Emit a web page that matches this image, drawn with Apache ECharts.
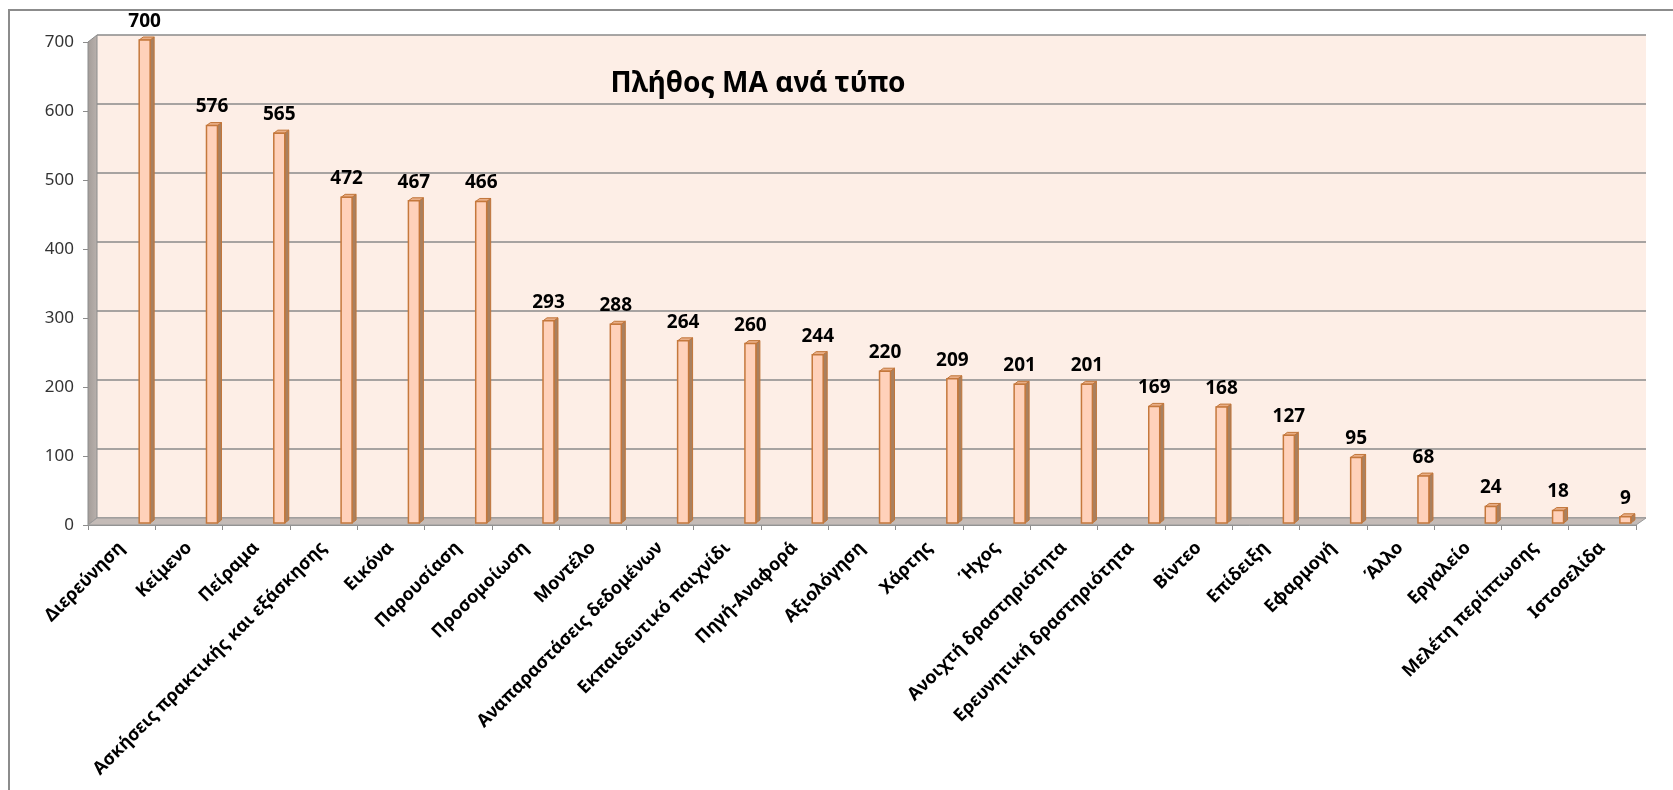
<!DOCTYPE html>
<html>
<head>
<meta charset="utf-8">
<title>Πλήθος ΜΑ ανά τύπο</title>
<script src="https://cdn.jsdelivr.net/npm/echarts@6/dist/echarts.min.js"></script>
<style>
  html, body { margin: 0; padding: 0; background: #fff; }
  #main { width: 1673px; height: 790px; }
</style>
</head>
<body>
<div id="main"></div>
<script>
// δεδομένα του γραφήματος
var categories = ['Διερεύνηση', 'Κείμενο', 'Πείραμα', 'Ασκήσεις πρακτικής και εξάσκησης', 'Εικόνα',
    'Παρουσίαση', 'Προσομοίωση', 'Μοντέλο', 'Αναπαραστάσεις δεδομένων', 'Εκπαιδευτικό παιχνίδι',
    'Πηγή-Αναφορά', 'Αξιολόγηση', 'Χάρτης', 'Ήχος', 'Ανοιχτή δραστηριότητα', 'Ερευνητική δραστηριότητα',
    'Βίντεο', 'Επίδειξη', 'Εφαρμογή', 'Άλλο', 'Εργαλείο', 'Μελέτη περίπτωσης', 'Ιστοσελίδα'];
var counts = [700, 576, 565, 472, 467, 466, 293, 288, 264, 260, 244, 220, 209, 201, 201, 169, 168, 127, 95, 68, 24, 18, 9];
var yTicks = [0, 100, 200, 300, 400, 500, 600, 700];

var FONT = '"Noto Sans", "Open Sans", sans-serif';

var myChart = echarts.init(document.getElementById('main'));

// 3D κολόνα: μπροστινή όψη, πλάι, πάνω + ετικέτα τιμής
function renderBar(params, api) {
    var i = api.value(0);
    var v = api.value(1);
    var top = api.coord([i, v]);
    var base = api.coord([i, 0]);
    var slot = api.size([1, 0])[0];
    var w = slot * 0.163;
    var x0 = top[0] + slot * 0.342 - w / 2;
    var dx = 4, dy = 3, lift = 2;
    var y0 = top[1] - lift;
    var y1 = base[1] - lift;
    return {
        type: 'group',
        children: [
            {
                type: 'polygon',
                shape: { points: [[x0 + w, y0], [x0 + w + dx, y0 - dy], [x0 + w + dx, y1 - dy], [x0 + w, y1]] },
                style: { fill: '#A9805F', stroke: '#C07539', lineWidth: 1 }
            },
            {
                type: 'polygon',
                shape: { points: [[x0, y0], [x0 + dx, y0 - dy], [x0 + w + dx, y0 - dy], [x0 + w, y0]] },
                style: { fill: '#E9AE86', stroke: '#C07539', lineWidth: 1 }
            },
            {
                type: 'rect',
                shape: { x: x0, y: y0, width: w, height: y1 - y0 },
                style: { fill: '#FFD1BA', stroke: '#C5783C', lineWidth: 1.5 }
            },
            {
                type: 'text',
                style: {
                    text: String(v),
                    x: x0 + w / 2,
                    y: y0 - 9,
                    textAlign: 'center',
                    textVerticalAlign: 'bottom',
                    font: 'bold 19px ' + FONT,
                    fill: '#000'
                }
            }
        ]
    };
}

// πλαϊνός τοίχος και δάπεδο
function renderWalls(params, api) {
    var cs = params.coordSys;
    var x = cs.x, y = cs.y, w = cs.width, h = cs.height;
    var dx = 9, dy = 7;
    return {
        type: 'group',
        children: [
            {
                type: 'polygon',
                shape: { points: [[x, y], [x + dx, y - dy], [x + dx, y + h - dy], [x, y + h]] },
                style: {
                    fill: new echarts.graphic.LinearGradient(0, 0, 1, 0, [
                        { offset: 0, color: '#A39C98' },
                        { offset: 1, color: '#B9B1AD' }
                    ]),
                    stroke: '#8c8c8c', lineWidth: 1
                }
            },
            {
                type: 'polygon',
                shape: { points: [[x, y + h], [x + dx, y + h - dy], [x + w + dx + 1, y + h - dy], [x + w, y + h]] },
                style: { fill: '#C4BBB7', stroke: '#9a9a9a', lineWidth: 1 }
            }
        ]
    };
}

myChart.setOption({
    animation: false,
    backgroundColor: '#ffffff',
    graphic: [
        {
            type: 'rect',
            shape: { x: 9, y: 10, width: 1700, height: 800 },
            style: { fill: 'none', stroke: '#8c8c8c', lineWidth: 2 },
            z: 100
        },
        {
            type: 'text',
            x: 758, y: 84,
            style: {
                text: 'Πλήθος ΜΑ ανά τύπο',
                textAlign: 'center',
                textVerticalAlign: 'middle',
                font: 'bold 28px ' + FONT,
                fill: '#000'
            },
            z: 100
        }
    ],
    grid: [
        // μπροστινό επίπεδο (άξονες)
        { left: 88, right: 37, top: 42, bottom: 265, show: false },
        // πίσω τοίχος
        { left: 97, right: 27, top: 35, bottom: 272, show: true, backgroundColor: '#FDEEE6', borderWidth: 0 }
    ],
    xAxis: [
        {
            type: 'category',
            gridIndex: 0,
            data: categories,
            boundaryGap: true,
            axisLine: { show: true, lineStyle: { color: '#8c8c8c', width: 1 } },
            axisTick: { show: true, interval: 0, length: 5, lineStyle: { color: '#8c8c8c' } },
            axisLabel: {
                interval: 0,
                rotate: 45,
                margin: 20,
                fontFamily: FONT,
                fontWeight: 'bold',
                fontSize: 18,
                color: '#000'
            },
            splitLine: { show: false }
        },
        {
            type: 'category',
            gridIndex: 1,
            data: categories,
            show: false
        }
    ],
    yAxis: [
        {
            type: 'value',
            gridIndex: 0,
            min: yTicks[0],
            max: yTicks[yTicks.length - 1],
            interval: 100,
            axisLine: { show: true, lineStyle: { color: '#8c8c8c', width: 1 } },
            axisTick: { show: true, length: 5, lineStyle: { color: '#8c8c8c' } },
            axisLabel: { margin: 14, fontFamily: FONT, fontSize: 17, color: '#333' },
            splitLine: { show: false }
        },
        {
            type: 'value',
            gridIndex: 1,
            min: yTicks[0],
            max: yTicks[yTicks.length - 1],
            interval: 100,
            axisLine: { show: false },
            axisTick: { show: false },
            axisLabel: { show: false },
            splitLine: { show: true, lineStyle: { color: '#8a8a8a', width: 1.5 } }
        }
    ],
    series: [
        {
            type: 'custom',
            name: 'walls',
            xAxisIndex: 0,
            yAxisIndex: 0,
            renderItem: renderWalls,
            data: [[0, 0]],
            silent: true,
            z: 1
        },
        {
            type: 'custom',
            name: 'Πλήθος',
            xAxisIndex: 0,
            yAxisIndex: 0,
            renderItem: renderBar,
            encode: { x: 0, y: 1 },
            data: counts.map(function (c, i) { return [i, c]; }),
            z: 5
        }
    ]
});
</script>
</body>
</html>
